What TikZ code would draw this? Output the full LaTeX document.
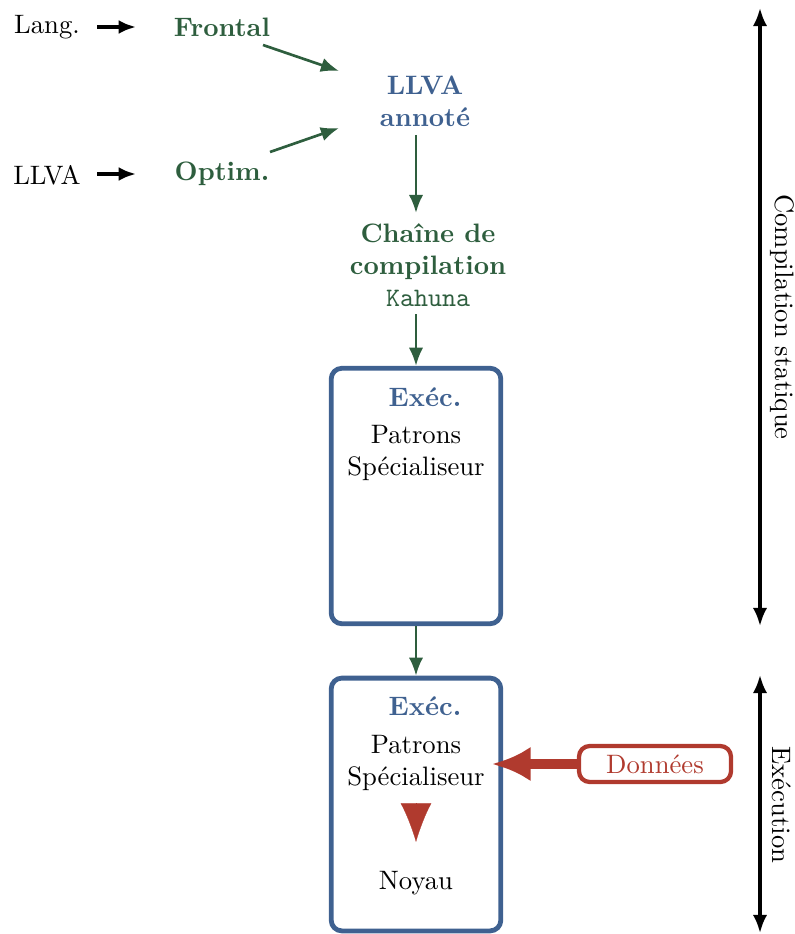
\documentclass[tikz,border=0pt]{standalone}
\usetikzlibrary{arrows.meta,calc}
\definecolor{gr}{HTML}{2E5E3E}
\definecolor{bl}{HTML}{3F6190}
\definecolor{rd}{HTML}{B03A2E}
\begin{document}
\begin{tikzpicture}[x=0.375pt,y=-0.375pt,
  txt/.style={inner sep=1pt,align=center},
  gtxt/.style={txt,text=gr,font=\bfseries},
  btxt/.style={txt,text=bl,font=\bfseries},
  garrow/.style={draw=gr,line width=1pt,-{Latex[length=6.8pt,width=5.4pt]}},
  karrow/.style={draw=black,line width=1.4pt,-{Latex[length=6.5pt,width=5.2pt]}},
  darrow/.style={draw=black,line width=1.2pt,{Latex[length=6.8pt,width=5.4pt]}-{Latex[length=6.8pt,width=5.4pt]}},
  execbox/.style={draw=bl,line width=1.8pt,rounded corners=4pt,inner sep=0pt,minimum width=63.6pt},
]
\useasboundingbox (0,0) rectangle (794,934);
% left inputs
\node[txt] (lang) at (47,27) {Lang.};
\node[txt] (llvain) at (47,175) {LLVA};
\node[gtxt] (frontal) at (222,27) {Frontal};
\node[gtxt] (optim) at (222,174) {Optim.};
\coordinate (l1) at (97,27);
\coordinate (l2) at (136,27);
\coordinate (m1) at (97,174);
\coordinate (m2) at (136,174);
\draw[karrow] (l1) -- (l2);
\draw[karrow] (m1) -- (m2);
% annotated LLVA
\node[btxt] (annot) at (425,101) {LLVA\\annoté};
\coordinate (f1) at (263,45);
\coordinate (f2) at (339,71);
\coordinate (o1) at (270,152);
\coordinate (o2) at (339,128);
\draw[garrow] (f1) -- (f2);
\draw[garrow] (o1) -- (o2);
% chain
\node[gtxt] (chain) at (428,265) {Chaîne de\\compilation\\\texttt{\mdseries Kahuna}};
% boxes
\node[execbox,minimum height=95.8pt] (box1) at (416,496) {};
\node[execbox,minimum height=94.8pt] (box2) at (416,804.5) {};
\coordinate (a1) at (416,135);
\coordinate (a2) at (416,213);
\coordinate (a3) at (416,314);
\draw[garrow] (a1) -- (a2);
\draw[garrow] (a3) -- (box1.north);
\draw[garrow] (box1.south) -- (box2.north);
\node[btxt] (exec1) at (425,397) {Exéc.};
\node[txt] (pat1) at (416,453) {Patrons\\Spécialiseur};
\node[btxt] (exec2) at (425,706) {Exéc.};
\node[txt] (pat2) at (416,763) {Patrons\\Spécialiseur};
\node[txt] (noyau) at (416,883) {Noyau};
\coordinate (t1) at (416,803);
\coordinate (t2) at (416,842);
\draw[rd,line width=0.1pt,-{Latex[length=14.5pt,width=11.5pt]}] (t1) -- (t2);
% donnees
\node[draw=rd,line width=1.6pt,rounded corners=4pt,text=rd,minimum width=57pt,minimum height=13.5pt,inner sep=0pt] (don) at (655,764) {Données};
\coordinate (dtip) at (492,764);
\draw[rd,line width=3.75pt,-{Latex[length=14.5pt,width=13pt]}] (don.west) -- (dtip);
% right arrows
\coordinate (c1) at (760,8);
\coordinate (c2) at (760,626);
\coordinate (e1) at (760,675);
\coordinate (e2) at (760,933);
\draw[darrow] (c1) -- (c2);
\draw[darrow] (e1) -- (e2);
\node[txt,rotate=-90] (comp) at (782,317) {Compilation statique};
\node[txt,rotate=-90] (exe) at (782,805) {Exécution};
\end{tikzpicture}
\end{document}
